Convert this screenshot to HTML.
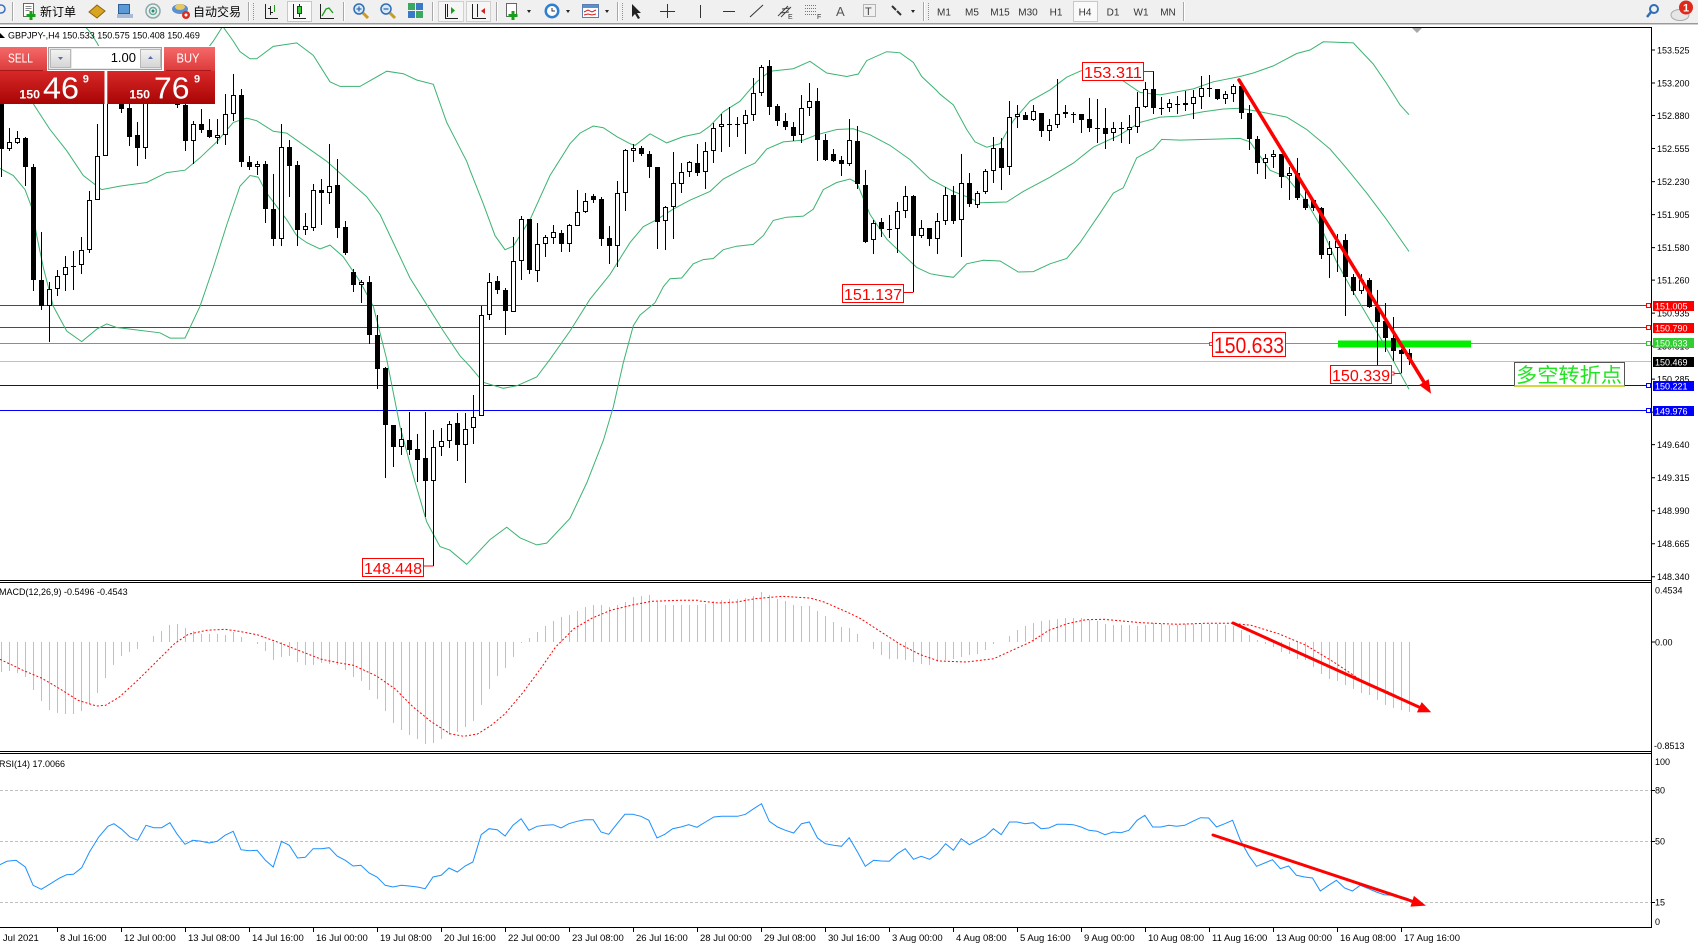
<!DOCTYPE html>
<html><head><meta charset="utf-8">
<style>
html,body{margin:0;padding:0;width:1698px;height:948px;overflow:hidden;background:#fff;}
#c{position:absolute;left:0;top:0;}
</style></head>
<body>
<svg id="c" width="1698" height="948" viewBox="0 0 1698 948" xmlns="http://www.w3.org/2000/svg" font-family="'Liberation Sans','Noto Sans CJK SC',sans-serif">
<defs>
<linearGradient id="gb" x1="0" y1="0" x2="0" y2="1"><stop offset="0" stop-color="#f56a6a"/><stop offset="1" stop-color="#dc3a3a"/></linearGradient>
<linearGradient id="gp" x1="0" y1="0" x2="0" y2="1"><stop offset="0" stop-color="#d82828"/><stop offset="1" stop-color="#a80404"/></linearGradient>
<linearGradient id="gg" x1="0" y1="0" x2="0" y2="1"><stop offset="0" stop-color="#f4f4f4"/><stop offset="1" stop-color="#d4d4d4"/></linearGradient>
<clipPath id="mc"><rect x="0" y="28" width="1651" height="552"/></clipPath>
</defs>
<rect width="1698" height="948" fill="#fff"/>

<!-- ===== toolbar ===== -->
<rect x="0" y="0" width="1698" height="23" fill="#f0f0f0"/>
<rect x="0" y="23" width="1698" height="1" fill="#9a9a9a"/>
<rect x="0" y="24" width="1698" height="1" fill="#d0d0d0"/>
<circle cx="1" cy="9" r="4" fill="none" stroke="#3a6fc0" stroke-width="1.5"/>
<path d="M12.5 2V21M248.5 2V21M343.5 2V21M432.5 2V21M496.5 2V21M617.5 2V21M923.5 2V21M1183.5 2V21" stroke="#a8a8a8"/>
<path d="M13.5 2V21M249.5 2V21M344.5 2V21M433.5 2V21M497.5 2V21M618.5 2V21M924.5 2V21M1184.5 2V21" stroke="#fff"/>
<path d="M253.5 3V20M622.5 3V20M928.5 3V20" stroke="#909090" stroke-dasharray="1 1"/>
<!-- new order -->
<rect x="23.5" y="3.5" width="10" height="13" fill="#fff" stroke="#666"/>
<path d="M25.5 6.5h6M25.5 8.5h6M25.5 10.5h4" stroke="#888"/>
<path d="M31 11v9M26.5 15.5h9" stroke="#1a9e1a" stroke-width="3"/>
<text x="40" y="16" font-size="12" font-family="'Liberation Sans','Noto Sans CJK SC',sans-serif" fill="#000">新订单</text>
<polygon points="89,12 97,5 105,11 97,18" fill="#d9a520" stroke="#8a6510"/>
<rect x="118.5" y="4.5" width="11" height="9" fill="#5b9bd5" stroke="#2e5f9a"/>
<rect x="117" y="14" width="16" height="4" fill="#a8bcd8"/>
<circle cx="153" cy="11" r="7" fill="none" stroke="#8aa8a8" stroke-width="1.5"/>
<circle cx="153" cy="11" r="3.5" fill="none" stroke="#6a9" stroke-width="1.5"/>
<circle cx="153" cy="11" r="1.5" fill="#287"/>
<ellipse cx="180" cy="9" rx="8" ry="5" fill="#5b8fd0"/>
<ellipse cx="180" cy="7" rx="5" ry="3" fill="#e8c860"/>
<circle cx="186" cy="15" r="4" fill="#d83020"/><circle cx="186" cy="15" r="1.5" fill="#fff"/>
<text x="193" y="16" font-size="12" font-family="'Liberation Sans','Noto Sans CJK SC',sans-serif" fill="#000">自动交易</text>
<!-- chart type -->
<path d="M265.5 4V18.5H278M270.5 6V15M268 8.5h2.5M270.5 12.5h2.5" stroke="#222" fill="none"/>
<path d="M274.5 5V12" stroke="#1a9e1a"/>
<rect x="287.5" y="1.5" width="24" height="20" fill="#fafafa" stroke="#c8c8c8"/>
<path d="M293.5 4V18.5H306M299.5 4V17" stroke="#222" fill="none"/>
<rect x="297.5" y="6.5" width="4" height="7" fill="#3bc83b" stroke="#0a5a0a"/>
<path d="M320.5 4V18.5H334" stroke="#222" fill="none"/>
<polyline points="322,16 326,9 329,8 333,13" fill="none" stroke="#1a9e1a" stroke-width="1.3"/>
<circle cx="359" cy="9" r="5" fill="#d8e8f8" stroke="#2f6db5" stroke-width="1.5"/>
<path d="M356.5 9h5M359 6.5v5" stroke="#2f6db5" stroke-width="1.3"/>
<path d="M363 13l5 5" stroke="#c89b2a" stroke-width="3"/>
<circle cx="386" cy="9" r="5" fill="#d8e8f8" stroke="#2f6db5" stroke-width="1.5"/>
<path d="M383.5 9h5" stroke="#2f6db5" stroke-width="1.3"/>
<path d="M390 13l5 5" stroke="#c89b2a" stroke-width="3"/>
<rect x="408" y="3" width="7" height="7" fill="#3aa860"/><rect x="416" y="3" width="7" height="7" fill="#3a78c8"/>
<rect x="408" y="11" width="7" height="7" fill="#3a78c8"/><rect x="416" y="11" width="7" height="7" fill="#3aa860"/>
<rect x="438.5" y="1.5" width="25" height="20" fill="#f6f6f6" stroke="#d0d0d0"/>
<path d="M445.5 4V18.5H458M447.5 4V17" stroke="#222" fill="none"/>
<polygon points="451,7 455,10.5 451,14" fill="#1a9e1a"/>
<rect x="466.5" y="1.5" width="24" height="20" fill="#f6f6f6" stroke="#d0d0d0"/>
<path d="M472.5 4V18.5H486M477.5 4V17" stroke="#222" fill="none"/>
<polygon points="481,11 485,8 485,14" fill="#d02020"/>
<rect x="506.5" y="3.5" width="10" height="13" fill="#fff" stroke="#666"/>
<path d="M513 11v9M508.5 15.5h9" stroke="#1a9e1a" stroke-width="3"/>
<polygon points="527,10 531,10 529,13" fill="#222"/>
<circle cx="552" cy="11" r="7.5" fill="#2f7fd0"/><circle cx="552" cy="11" r="5" fill="#fff"/>
<path d="M552 8v3h3" stroke="#333" fill="none"/>
<polygon points="566,10 570,10 568,13" fill="#222"/>
<rect x="582.5" y="4.5" width="16" height="13" fill="#fff" stroke="#5a7fb0"/>
<rect x="583" y="5" width="15" height="3" fill="#5a8fd0"/>
<path d="M584 12l4-2 4 2 4-2M584 15l4-1 4 1 4-1" stroke="#d02020" fill="none"/>
<polygon points="605,10 609,10 607,13" fill="#222"/>
<polygon points="632,4 632,17 635,14 638,19 640,18 637,13 641,13" fill="#222"/>
<path d="M667.5 4V18M660 11.5h15" stroke="#333"/>
<path d="M700.5 5V18" stroke="#333"/>
<path d="M723 11.5h12" stroke="#333"/>
<path d="M750 17l13-12" stroke="#333"/>
<path d="M778 16l10-10M781 17l10-10M780 13l9-1M782 9l8-1" stroke="#444"/>
<text x="788" y="19" font-size="7" fill="#333">E</text>
<path d="M805 5.5h12M805 8.5h12M805 11.5h12M805 14.5h12" stroke="#777" stroke-dasharray="1 1"/>
<text x="817" y="19" font-size="7" fill="#333">F</text>
<text x="836" y="16" font-size="13" fill="#555">A</text>
<rect x="863.5" y="4.5" width="12" height="12" fill="none" stroke="#777" stroke-dasharray="1 1"/>
<text x="865" y="15" font-size="11" fill="#444">T</text>
<path d="M892 6l4 4M897 11l4 4" stroke="#333" stroke-width="2"/>
<polygon points="911,10 915,10 913,13" fill="#222"/>
<g font-size="10" fill="#333" text-anchor="middle">
<rect x="1073.5" y="1.5" width="24" height="20" fill="#fafafa" stroke="#c8c8c8"/>
<text x="944" y="15.5">M1</text><text x="972" y="15.5">M5</text><text x="1000" y="15.5">M15</text><text x="1028" y="15.5">M30</text><text x="1056" y="15.5">H1</text><text x="1085" y="15.5">H4</text><text x="1113" y="15.5">D1</text><text x="1141" y="15.5">W1</text><text x="1168" y="15.5">MN</text>
</g>
<circle cx="1654" cy="9" r="4" fill="none" stroke="#2f6db5" stroke-width="2"/>
<path d="M1651 12l-4 5" stroke="#2f6db5" stroke-width="2.5"/>
<ellipse cx="1680" cy="15" rx="9" ry="5.5" fill="#e6e6e6" stroke="#aaa"/>
<circle cx="1686" cy="7.5" r="7" fill="#dd2a1a"/>
<text x="1686" y="11.5" font-size="11" font-weight="bold" fill="#fff" text-anchor="middle">1</text>

<!-- ===== main chart objects (under candles) ===== -->
<g id="hl">
<path d="M0 305.5H1646.5M0 327.5H1646.5" stroke="#ff0000"/>
<path d="M0 343.5H1646.5" stroke="#32cd32"/>
<path d="M0 361.5H1651" stroke="#c0c0c0"/>
<path d="M0 385.5H1646.5M0 410.5H1646.5" stroke="#0000ff"/>
<rect x="1646.5" y="303.5" width="4" height="4" fill="#fff" stroke="#ff0000"/>
<rect x="1646.5" y="325.5" width="4" height="4" fill="#fff" stroke="#ff0000"/>
<rect x="1646.5" y="341.5" width="4" height="4" fill="#fff" stroke="#32cd32"/>
<rect x="1646.5" y="383.5" width="4" height="4" fill="#fff" stroke="#0000ff"/>
<rect x="1646.5" y="408.5" width="4" height="4" fill="#fff" stroke="#0000ff"/>
</g>
<rect x="1338" y="340.5" width="133" height="7" fill="#00ee00"/>
<g id="bands" clip-path="url(#mc)"></g>
<g id="candles"></g>

<!-- chart labels -->
<g font-size="16" fill="#ff0000">
<path d="M423 566H433.5M903 292.5H913.5M1143 71.5H1153.5M1391 373.5H1401.5" stroke="#ff0000"/>
<rect x="362.5" y="558.5" width="61" height="18" fill="#fff" stroke="#ff0000"/>
<text x="364" y="574" textLength="58" lengthAdjust="spacingAndGlyphs">148.448</text>
<rect x="842.5" y="284.5" width="61" height="18" fill="#fff" stroke="#ff0000"/>
<text x="844" y="300" textLength="58" lengthAdjust="spacingAndGlyphs">151.137</text>
<rect x="1082.5" y="62.5" width="61" height="18" fill="#fff" stroke="#ff0000"/>
<text x="1084" y="78" textLength="58" lengthAdjust="spacingAndGlyphs">153.311</text>
<rect x="1330.5" y="365.5" width="61" height="18" fill="#fff" stroke="#ff0000"/>
<text x="1332" y="381" textLength="58" lengthAdjust="spacingAndGlyphs">150.339</text>
<rect x="1391.5" y="372" width="2.5" height="3" fill="#fff" stroke="#ff0000" stroke-width="0.8"/>
<rect x="1212.5" y="332.5" width="73" height="24" fill="#fff" stroke="#ff0000"/>
<text x="1214" y="353" font-size="22" textLength="70" lengthAdjust="spacingAndGlyphs">150.633</text>
<rect x="1209.5" y="342.5" width="3" height="3" fill="#fff" stroke="#ff0000" stroke-width="0.8"/>
</g>
<!-- trend arrow main -->
<path d="M1239 80L1424.3 382.6" stroke="#ff0000" stroke-width="3.5" stroke-linecap="round"/>
<polygon points="1430,392 1420.5,385 1428.1,380.3" fill="#ff0000" stroke="#ff0000" stroke-width="1.5"/>
<!-- text box -->
<rect x="1514.5" y="362.5" width="110" height="23.5" fill="#fff" stroke="#555"/>
<path d="M1514.5 386H1624.5" stroke="#c8c800" stroke-width="1.5"/>
<text x="1516" y="382" font-size="20" fill="#1ee61e" textLength="106" lengthAdjust="spacingAndGlyphs" font-family="'Liberation Sans','Noto Sans CJK SC',sans-serif">多空转折点</text>
<polygon points="1412,28 1422,28 1417,33" fill="#a8a8a8"/>

<!-- legend -->
<polygon points="0,38 5,38 0,33" fill="#000"/>
<text x="8" y="38.5" font-size="9" fill="#000">GBPJPY-,H4  150.533 150.575 150.408 150.469</text>

<!-- ===== MACD / RSI ===== -->
<g id="macd"></g>
<path d="M0 790.5H1651M0 841.5H1651M0 902.5H1651" stroke="#c0c0c0" stroke-dasharray="3 2"/>
<g id="rsi"></g>
<path d="M1233 623L1420 707.5" stroke="#ff0000" stroke-width="3" stroke-linecap="round"/>
<polygon points="1429.5,711.5 1418.1,711.6 1421.9,703.4" fill="#ff0000" stroke="#ff0000" stroke-width="1.5"/>
<path d="M1213 835L1413 901.5" stroke="#ff0000" stroke-width="3" stroke-linecap="round"/>
<polygon points="1424,905 1411.5,905.8 1414.3,897.2" fill="#ff0000" stroke="#ff0000" stroke-width="1.5"/>
<text x="-1" y="595" font-size="9" fill="#000">MACD(12,26,9) -0.5496 -0.4543</text>
<text x="-1" y="767" font-size="9" fill="#000">RSI(14) 17.0066</text>

<!-- ===== borders ===== -->
<path d="M0 27.5H1651.5M1651.5 27V928M0 580.5H1651.5M0 582.5H1651.5M0 751.5H1651.5M0 753.5H1651.5M0 927.5H1651.5" stroke="#000" fill="none"/>

<!-- price axis -->
<path d="M1651.5 50H1655M1651.5 83H1655M1651.5 115.5H1655M1651.5 148.5H1655M1651.5 181.6H1655M1651.5 214.6H1655M1651.5 247.6H1655M1651.5 280.1H1655M1651.5 313.1H1655M1651.5 346.1H1655M1651.5 379.1H1655M1651.5 412.1H1655M1651.5 444.6H1655M1651.5 477.7H1655M1651.5 510.7H1655M1651.5 543.7H1655M1651.5 576.7H1655" stroke="#000"/>
<g font-size="9" fill="#000">
<text x="1657" y="53.3">153.525</text>
<text x="1657" y="86.3">153.200</text>
<text x="1657" y="118.8">152.880</text>
<text x="1657" y="151.8">152.555</text>
<text x="1657" y="184.9">152.230</text>
<text x="1657" y="217.9">151.905</text>
<text x="1657" y="250.9">151.580</text>
<text x="1657" y="283.4">151.260</text>
<text x="1657" y="316.4">150.935</text>
<text x="1657" y="349.4">150.610</text>
<text x="1657" y="382.4">150.285</text>
<text x="1657" y="415.4">149.960</text>
<text x="1657" y="447.9">149.640</text>
<text x="1657" y="481">149.315</text>
<text x="1657" y="514">148.990</text>
<text x="1657" y="547">148.665</text>
<text x="1657" y="580">148.340</text>
</g>
<g font-size="9" fill="#fff">
<rect x="1653" y="301" width="41" height="10" fill="#ff0000"/><text x="1655" y="309.5">151.005</text>
<rect x="1653" y="323" width="41" height="10" fill="#ff0000"/><text x="1655" y="331.5">150.790</text>
<rect x="1653" y="338" width="41" height="10" fill="#32cd32"/><text x="1655" y="346.5">150.633</text>
<rect x="1653" y="357" width="41" height="10" fill="#000"/><text x="1655" y="365.3">150.469</text>
<rect x="1653" y="381" width="41" height="10" fill="#0000ff"/><text x="1655" y="389.5">150.221</text>
<rect x="1653" y="406" width="41" height="10" fill="#0000ff"/><text x="1655" y="414.5">149.976</text>
</g>
<!-- macd / rsi axis -->
<path d="M1651.5 642H1655M1651.5 790.5H1655M1651.5 841.5H1655M1651.5 902.5H1655" stroke="#000"/>
<g font-size="9" fill="#000">
<text x="1655" y="593.5">0.4534</text>
<text x="1655" y="645.5">0.00</text>
<text x="1654" y="749">-0.8513</text>
<text x="1655" y="765">100</text>
<text x="1655" y="793.7">80</text>
<text x="1655" y="844.7">50</text>
<text x="1655" y="905.7">15</text>
<text x="1655" y="925">0</text>
</g>
<!-- time axis -->
<path d="M57.5 928V932M121.5 928V932M185.5 928V932M249.5 928V932M313.5 928V932M377.5 928V932M441.5 928V932M505.5 928V932M569.5 928V932M633.5 928V932M697.5 928V932M761.5 928V932M825.5 928V932M889.5 928V932M953.5 928V932M1017.5 928V932M1081.5 928V932M1145.5 928V932M1209.5 928V932M1273.5 928V932M1337.5 928V932M1401.5 928V932" stroke="#000"/>
<g font-size="9.5" fill="#000">
<text x="-5" y="941">7 Jul 2021</text>
<text x="60" y="941">8 Jul 16:00</text>
<text x="124" y="941">12 Jul 00:00</text>
<text x="188" y="941">13 Jul 08:00</text>
<text x="252" y="941">14 Jul 16:00</text>
<text x="316" y="941">16 Jul 00:00</text>
<text x="380" y="941">19 Jul 08:00</text>
<text x="444" y="941">20 Jul 16:00</text>
<text x="508" y="941">22 Jul 00:00</text>
<text x="572" y="941">23 Jul 08:00</text>
<text x="636" y="941">26 Jul 16:00</text>
<text x="700" y="941">28 Jul 00:00</text>
<text x="764" y="941">29 Jul 08:00</text>
<text x="828" y="941">30 Jul 16:00</text>
<text x="892" y="941">3 Aug 00:00</text>
<text x="956" y="941">4 Aug 08:00</text>
<text x="1020" y="941">5 Aug 16:00</text>
<text x="1084" y="941">9 Aug 00:00</text>
<text x="1148" y="941">10 Aug 08:00</text>
<text x="1212" y="941">11 Aug 16:00</text>
<text x="1276" y="941">13 Aug 00:00</text>
<text x="1340" y="941">16 Aug 08:00</text>
<text x="1404" y="941">17 Aug 16:00</text>
</g>

<!-- ===== trade panel ===== -->
<rect x="0" y="46" width="216" height="58" fill="#fff"/>
<rect x="0" y="47" width="47" height="24" fill="url(#gb)"/>
<path d="M0 70.5H43" stroke="#a81818"/>
<text x="8" y="62.7" font-size="13" fill="#fff" textLength="25" lengthAdjust="spacingAndGlyphs">SELL</text>
<rect x="48.5" y="47.5" width="113" height="22" fill="#e8e8e8" stroke="#a0a0a0"/>
<rect x="50.5" y="49.5" width="20" height="18" fill="url(#gg)" stroke="#b8b8b8"/>
<polygon points="58,57 63,57 60.5,60" fill="#5a6fa8"/>
<rect x="72" y="49" width="68" height="19" fill="#fff"/>
<text x="136" y="62" font-size="13" fill="#000" text-anchor="end">1.00</text>
<rect x="140.5" y="49.5" width="20" height="18" fill="url(#gg)" stroke="#b8b8b8"/>
<polygon points="148,59 153,59 150.5,56" fill="#5a6fa8"/>
<rect x="164" y="47" width="51" height="24" fill="url(#gb)"/>
<path d="M166 70.5H211" stroke="#a81818"/>
<text x="176.5" y="62.7" font-size="13" fill="#fff" textLength="23" lengthAdjust="spacingAndGlyphs">BUY</text>
<rect x="0" y="71" width="104.5" height="33" fill="url(#gp)"/>
<rect x="107.3" y="71" width="107.7" height="33" fill="url(#gp)"/>
<g fill="#fff">
<text x="19.3" y="98.3" font-size="12" font-weight="bold" textLength="20.7" lengthAdjust="spacingAndGlyphs">150</text>
<text x="43" y="98.3" font-size="31" textLength="36" lengthAdjust="spacingAndGlyphs">46</text>
<text x="82.7" y="82.7" font-size="11" font-weight="bold">9</text>
<text x="129.3" y="98.3" font-size="12" font-weight="bold" textLength="20.7" lengthAdjust="spacingAndGlyphs">150</text>
<text x="154" y="98.3" font-size="31" textLength="35.5" lengthAdjust="spacingAndGlyphs">76</text>
<text x="194" y="82.7" font-size="11" font-weight="bold">9</text>
</g>
</svg>

<script>
(function(){
var S='http://www.w3.org/2000/svg';
function mk(p,t,a){var e=document.createElementNS(S,t);for(var k in a)e.setAttribute(k,a[k]);p.appendChild(e);return e;}
function my(z){return 27+z*0.3535;}
var CD="b,150,345,140,425|w,325,345,285,350|w,315,328,295,330|b,315,397,310,450|b,397,717,388,748|b,715,790,580,800|w,742,790,720,890|w,705,742,688,760|w,680,702,648,748|d,675,675,635,745|"+
"w,632,673,595,698|w,490,630,465,638|w,365,490,275,490|w,120,365,100,365|b,120,170,90,200|b,170,232,150,242|b,230,310,200,338|b,305,343,270,392|w,180,343,160,372|w,130,180,110,200|"+
"b,130,160,100,190|w,120,160,100,200|b,160,222,140,228|b,222,323,200,352|w,275,323,265,388|b,275,290,232,300|b,290,312,260,315|w,306,315,260,330|w,245,306,190,335|w,193,245,132,265|"+
"b,193,383,175,395|b,383,395,365,405|w,388,395,378,420|b,388,515,380,555|b,515,600,415,620|w,340,600,275,620|b,340,392,320,480|b,390,575,380,620|w,563,575,525,588|w,462,568,445,578|"+
"b,462,470,430,560|w,450,470,330,500|b,447,570,373,598|b,565,638,550,645|b,692,730,685,750|w,720,730,715,780|b,720,872,705,898|b,870,968,815,1025|b,965,1125,962,1275|b,1125,1188,1125,1245|"+
"w,1165,1188,1135,1210|b,1167,1197,1090,1210|b,1195,1225,1150,1288|b,1220,1285,1090,1385|w,1188,1285,1140,1525|w,1170,1188,1135,1213|w,1122,1170,1115,1190|b,1120,1182,1092,1228|w,1137,1182,1092,1290|w,1102,1133,1042,1180|"+
"w,815,1100,790,1100|w,720,815,695,830|b,718,745,703,755|b,743,803,738,872|w,662,805,593,805|w,543,662,535,717|b,543,688,543,698|w,615,690,555,722|w,594,614,588,652|w,580,597,560,615|"+
"b,583,615,575,637|w,560,615,557,637|w,523,563,462,563|w,493,523,470,527|b,478,488,473,498|b,487,600,480,620|b,597,620,562,670|w,470,620,437,680|w,348,470,345,520|w,343,350,332,383|"+
"b,342,360,338,365|b,360,397,350,428|b,397,552,397,628|w,510,550,505,632|w,442,510,355,600|w,410,445,385,470|w,382,410,380,425|b,385,413,330,422|w,350,410,325,458|w,286,350,272,385|"+
"w,275,283,245,355|d,275,275,225,340|d,275,275,255,310|w,250,275,235,360|w,187,250,145,265|w,112,187,107,195|b,110,225,93,248|b,223,267,218,280|b,267,283,243,290|b,283,308,268,322|"+
"w,230,306,192,327|w,208,230,158,252|b,210,320,172,380|b,320,375,303,380|b,360,378,345,383|b,377,388,365,422|w,320,388,260,392|b,322,445,280,458|b,447,607,405,612|w,555,603,545,643|"+
"b,553,572,540,593|d,572,572,533,598|w,520,572,495,638|w,478,520,450,540|b,478,592,475,750|w,570,590,545,597|b,568,600,568,620|w,548,600,527,643|w,475,548,452,560|b,475,548,450,558|"+
"w,442,547,358,650|b,442,502,412,510|w,470,503,465,513|w,407,467,402,472|w,343,408,312,442|b,343,400,315,462|w,255,395,208,418|w,247,255,222,285|b,250,262,240,262|w,238,262,222,265|"+
"b,242,293,242,310|w,278,293,260,322|w,246,278,147,285|w,240,246,220,258|d,245,245,240,272|b,245,262,245,300|b,260,285,202,297|d,285,285,205,328|b,285,303,230,345|w,287,300,270,322|"+
"d,287,287,268,328|w,282,290,250,330|w,225,283,185,300|w,175,225,155,230|b,175,228,125,245|d,228,228,198,248|w,215,228,205,240|d,217,217,195,245|w,215,220,180,238|w,197,217,178,260|"+
"w,173,197,138,233|d,173,173,135,198|b,175,205,175,207|w,190,205,180,218|w,168,190,162,212|b,168,242,163,260|b,242,318,220,348|b,318,385,308,415|w,370,385,360,430|w,358,368,348,398|"+
"b,358,423,358,455|w,412,422,395,488|b,412,485,370,490|b,487,513,463,518|b,490,512,488,520|b,512,645,510,655|w,625,645,605,710|w,605,625,585,692|b,603,708,585,818|b,707,747,700,758|"+
"w,715,747,700,755|b,715,792,710,795|b,793,835,745,955|b,833,880,780,920|b,880,917,820,945|b,915,925,910,980|b,922,940,910,957";
var cg=document.getElementById('candles');
var wk='',bk='',wh='';
CD.split('|').forEach(function(s,i){
 var a=s.split(','),t=a[0];
 var c=8*i+1.5;
 var bt=Math.round(my(+a[1])),bb=Math.round(my(+a[2])),wt=Math.round(my(+a[3])),wb=Math.round(my(+a[4]));
 if(wb<=wt)wb=wt+1;
 wk+='M'+c+' '+wt+'V'+wb;
 if(t==='w'){var h=Math.max(bb-bt,2);wh+='M'+(c-2)+' '+(bt+0.5)+'h4v'+(h-1)+'h-4z';}
 else{var h2=Math.max(bb-bt,1);bk+='M'+(c-2.5)+' '+bt+'h5v'+h2+'h-5z';}
});
mk(cg,'path',{d:wk,stroke:'#000','stroke-width':1,fill:'none'});
mk(cg,'path',{d:bk,fill:'#000'});
mk(cg,'path',{d:wh,fill:'#fff',stroke:'#000','stroke-width':1});

function P(str,ox,sx,fy,lo,hi){
 var r=[];str.trim().split(/\s+/).forEach(function(p){var q=p.split(',');var x=ox+(+q[0])/sx,y=fy(+q[1]);if(x>=lo&&x<hi)r.push([x,y]);});return r;}
function D(pts){return 'M'+pts.map(function(p){return p[0].toFixed(1)+' '+p[1].toFixed(1);}).join('L');}
var U5="0,-200 150,-110 270,14 291,45 360,170 440,200 520,150 600,90 640,40 668,-2 700,40 720,70 750,90 770,90 820,55 890,45 940,80 990,155 1020,168 1080,168 1160,125 1210,132 1250,150 1300,162 1340,270 1400,380 1440,490";
var M5="0,70 50,140 105,225 150,290 200,350 250,420 305,460 360,450 440,440 500,412 555,405 600,370 650,325 700,270 740,258 770,265 820,295 860,300 920,340 980,380 1040,430 1100,480 1140,530 1180,610 1230,710 1290,800 1330,860 1380,930 1440,990";
var L5="0,400 40,420 75,460 95,510 110,590 130,680 160,790 200,860 245,890 290,855 320,840 350,850 480,865 510,880 555,880 600,790 640,680 680,560 720,450 750,420 775,425 800,470 840,520 860,545 890,590 920,610 960,628 990,617 1030,650 1080,720 1120,790 1160,940 1200,1130 1240,1270 1280,1400 1320,1470 1350,1480 1400,1520 1440,1490";
var U6="0,405 40,500 75,590 105,630 130,620 180,545 240,420 300,330 330,300 370,280 400,285 440,310 480,330 495,335 540,302 590,328 640,310 690,300 720,280 760,240 810,210 860,155 900,125 970,118 1020,97 1070,130 1130,140 1165,133 1190,95 1250,70 1290,73 1330,100 1355,140 1400,180 1440,213";
var M6="0,960 40,1005 100,1022 140,1015 200,990 240,940 300,860 360,770 420,700 480,610 520,565 560,545 610,515 660,490 720,465 760,430 820,400 855,385 890,345 940,325 1000,320 1040,305 1100,290 1150,288 1200,305 1260,335 1320,375 1380,430 1440,460";
var L6="0,1510 60,1450 110,1415 150,1445 200,1465 230,1460 300,1390 350,1290 400,1170 430,1075 460,950 490,845 510,815 555,780 580,735 600,712 635,710 670,670 700,658 730,655 760,630 800,620 850,615 880,590 910,547 950,538 1000,535 1030,515 1060,460 1100,440 1140,430 1160,440 1200,530 1250,600 1300,645 1340,680 1380,698 1440,705";
var U7="0,190 40,220 80,290 105,325 140,340 180,330 220,265 270,210 330,178 380,142 420,125 450,118 530,140 600,185 660,192 760,175 820,155 900,140 940,130 1000,110 1070,75 1110,65 1150,42 1240,45 1300,105 1340,160 1380,220 1407,248";
var M7="0,445 40,465 80,480 120,497 200,495 250,465 330,425 400,385 460,340 540,305 600,270 660,255 720,252 790,240 850,232 900,230 960,240 1040,255 1100,290 1170,345 1220,400 1280,470 1340,545 1407,635";
var L7="0,703 40,708 80,670 130,660 180,662 235,693 280,692 330,670 380,655 420,610 480,527 520,470 550,455 590,370 640,345 665,318 720,320 800,318 900,315 930,325 990,405 1040,425 1100,495 1140,560 1190,665 1240,750 1290,830 1340,910 1407,1025";
var bg=document.getElementById('bands');
[[U5,U6,U7],[M5,M6,M7],[L5,L6,L7]].forEach(function(b){
 var pts=P(b[0],0,3,my,-10,470).concat(P(b[1],470,3,my,470,940)).concat(P(b[2],940,3,my,940,9999));
 mk(bg,'path',{d:D(pts),fill:'none',stroke:'#3cb371','stroke-width':1});
});

function py(z){return 582+z/3;}
var H=[270,268,273,285,323,357,383,392,395,395,388,365,332,287,248,222,210,202,180,162,147,128,126,138,148,155,155,155,160,150,165,180,185,207,233,224,222,240,250,248,243,245,250,265,285,298,325,350,388,422,443,460,470,485,482,472,460,450,435,418,370,320,282,257,225,182,168,150,132,118,105,100,88,75,68,70,75,70,60,45,43,38,60,70,70,70,70,70,
65,57,55,52,50,48,42,30,38,50,57,70,73,72,88,102,120,135,137,155,180,200,218,230,232,235,240,245,250,240,235,230,225,220,215,203,185,180,162,145,132,123,118,115,110,108,108,107,115,118,125,128,130,130,132,128,122,125,128,128,125,125,125,125,125,128,132,145,158,175,185,195,210,215,230,235,255,275,290,298,310,320,332,340,355,368,378,383,390];
var mg=document.getElementById('macd');
var hd='';
H.forEach(function(z,i){var c=8*i+1.5;var y=Math.round(py(z));if(y===642)return;hd+='M'+c+' 642V'+y;});
mk(mg,'path',{d:hd,stroke:'#c0c0c0','stroke-width':1,fill:'none'});
var S8="0,232 50,265 90,288 130,320 170,355 210,372 230,370 260,345 300,295 340,240 380,185 410,157 450,145 490,142 520,148 560,158 600,178 650,205 700,232 740,243 770,250 820,282 860,320 900,375 940,420 980,455 1010,463 1040,456 1070,430 1100,395 1140,330 1180,255 1210,195 1250,140 1290,108 1330,85 1380,68 1420,58 1480,55 1520,55 1568,65";
var S9="0,57 40,63 80,60 120,50 180,43 240,48 270,60 320,90 350,110 400,155 440,190 480,218 520,237 580,240 640,230 680,205 720,180 760,145 800,125 840,113 880,112 960,122 1040,127 1100,124 1160,124 1200,130 1260,155 1320,190 1380,240 1440,295 1500,330 1545,360";
var sp=P(S8,0,2.178,py,-10,700).concat(P(S9,700,2.178,py,700,9999));
mk(mg,'path',{d:D(sp),fill:'none',stroke:'#ff0000','stroke-width':1,'stroke-dasharray':'2 2'});
var R8="0,848 15,838 35,835 55,855 72,910 90,922 110,905 130,888 145,878 160,877 178,857 195,810 215,765 235,733 248,725 265,742 283,765 300,775 318,730 335,737 352,737 370,722 385,755 403,787 420,775 438,778 456,783 473,778 490,760 508,748 525,803 543,806 560,805 578,835 595,855 613,778 630,790 648,828 665,826 682,800 700,800 717,797 734,822 752,835 769,852 786,850 804,873 821,885 839,910 856,915 874,910 891,912 909,915 926,920 943,885 961,880 978,858 996,870 1013,852 1030,840 1048,758 1065,740 1083,743 1100,762 1117,730 1135,710 1152,745 1170,733 1187,730 1205,728 1222,738 1239,725 1257,718 1274,713 1292,713 1309,750 1326,757 1344,725 1361,697 1378,697 1396,703 1413,715 1431,768 1448,757 1465,740 1483,735 1500,728 1518,736 1535,718 1553,705 1568,703";
var R9="0,730 12,720 30,705 47,703 82,703 99,697 117,680 134,665 151,718 169,735 186,745 204,753 221,725 238,720 256,768 273,785 291,790 308,793 325,767 343,810 360,853 378,835 395,837 412,838 430,815 447,800 465,832 482,823 500,832 517,815 535,785 552,805 569,770 587,788 604,775 622,762 639,740 656,758 674,720 691,720 708,725 726,722 743,740 760,738 778,727 795,727 813,728 830,735 847,745 865,748 882,758 900,750 917,752 934,745 952,715 969,700 986,735 1004,735 1021,730 1038,733 1056,730 1073,718 1090,707 1108,708 1125,735 1143,725 1160,715 1177,775 1195,820 1212,853 1230,843 1247,833 1264,860 1282,852 1299,880 1317,885 1334,888 1351,927 1369,910 1386,895 1404,918 1421,927 1438,910 1456,920 1473,930 1490,938 1508,940 1525,943 1543,950";
var rp=P(R8,0,2.178,py,-10,700).concat(P(R9,700,2.178,py,700,9999));
mk(document.getElementById('rsi'),'path',{d:D(rp),fill:'none',stroke:'#1e90ff','stroke-width':1});
})();
</script>
</body></html>
